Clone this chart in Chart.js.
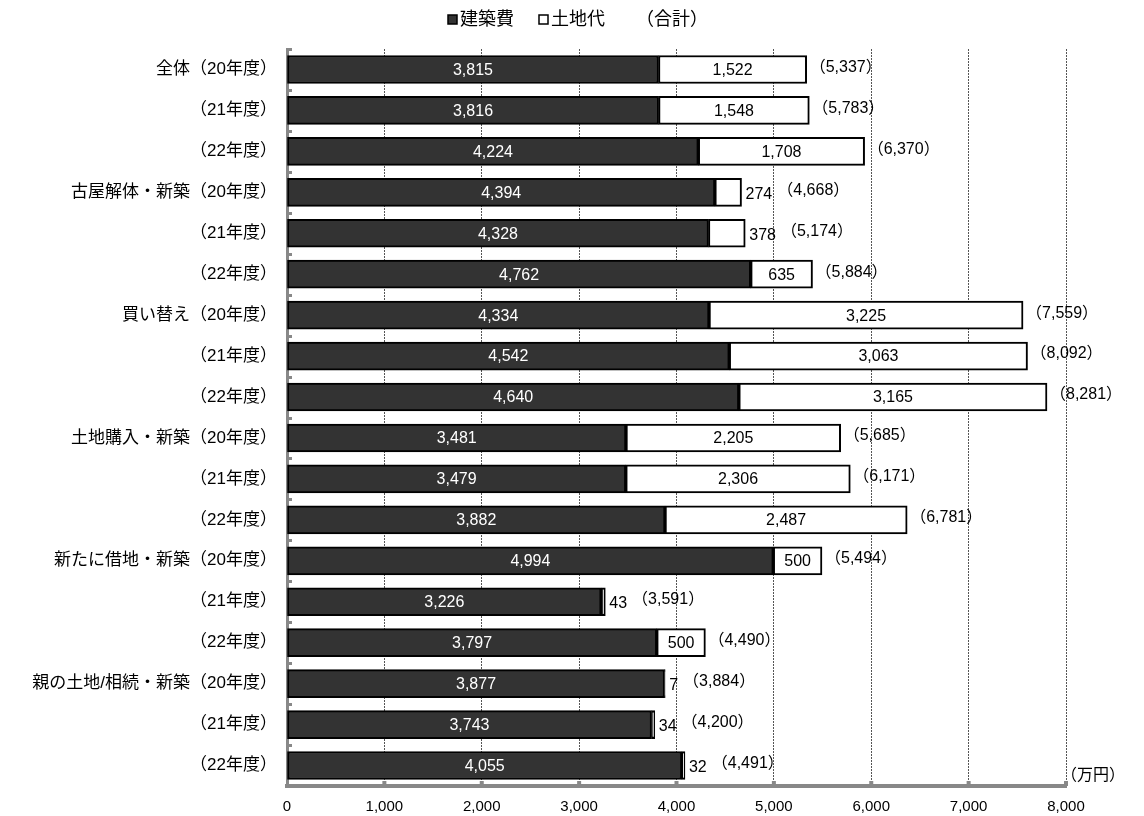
<!DOCTYPE html>
<html>
<head>
<meta charset="utf-8">
<script src="https://cdn.jsdelivr.net/npm/chart.js@4/dist/chart.umd.min.js"></script>
<style>
  html, body { margin: 0; background: #fff; }
  #wrap { width: 1144px; height: 816px; }
</style>
</head>
<body>
<div id="wrap"><canvas id="costChart" width="1144" height="816"></canvas></div>
<script>
// 建築費・土地代（万円）
const categories = [
  "全体（20年度）", "（21年度）", "（22年度）",
  "古屋解体・新築（20年度）", "（21年度）", "（22年度）",
  "買い替え（20年度）", "（21年度）", "（22年度）",
  "土地購入・新築（20年度）", "（21年度）", "（22年度）",
  "新たに借地・新築（20年度）", "（21年度）", "（22年度）",
  "親の土地/相続・新築（20年度）", "（21年度）", "（22年度）"
];
const buildCost = [3815, 3816, 4224, 4394, 4328, 4762, 4334, 4542, 4640, 3481, 3479, 3882, 4994, 3226, 3797, 3877, 3743, 4055];
const landCost = [1522, 1548, 1708, 274, 378, 635, 3225, 3063, 3165, 2205, 2306, 2487, 500, 43, 500, 7, 34, 32];
const totals = [5337, 5783, 6370, 4668, 5174, 5884, 7559, 8092, 8281, 5685, 6171, 6781, 5494, 3591, 4490, 3884, 4200, 4491];
const xTicks = [0, 1000, 2000, 3000, 4000, 5000, 6000, 7000, 8000];
const seriesNames = ["建築費", "土地代"];

const FONT = '"Liberation Sans", "Noto Sans CJK JP", sans-serif';
const fmt = v => v.toLocaleString("en-US");

const labelPlugin = {
  id: "labels",
  afterDraw(chart) {
    const ctx = chart.ctx;
    const area = chart.chartArea;
    const m0 = chart.getDatasetMeta(0);
    const m1 = chart.getDatasetMeta(1);

    ctx.save();
    // small ticks on the category axis
    ctx.fillStyle = "#888";
    const step = (area.bottom - area.top) / categories.length;
    for (let i = 0; i <= categories.length; i++) {
      const y = Math.round(area.top + step * i);
      ctx.fillRect(area.left, y - 1, 5, 3);
    }
    // small ticks on value axis
    chart.scales.x.ticks.forEach(t => {
      const x = chart.scales.x.getPixelForValue(t.value);
      if (t.value > 0) ctx.fillRect(x - 2, area.bottom - 5, 4, 5);
    });

    ctx.font = "16px " + FONT;
    ctx.textBaseline = "middle";
    for (let i = 0; i < categories.length; i++) {
      const b0 = m0.data[i];
      const b1 = m1.data[i];
      const y = b0.y;
      // build cost label
      ctx.fillStyle = "#fff";
      ctx.textAlign = "center";
      ctx.fillText(fmt(buildCost[i]), (b0.x + b0.base) / 2, y + 1);
      // land cost label
      ctx.fillStyle = "#000";
      const w = b1.x - b1.base;
      let endX = b1.x;
      const txt = fmt(landCost[i]);
      if (w >= 40) {
        ctx.textAlign = "center";
        ctx.fillText(txt, (b1.x + b1.base) / 2, y + 1);
      } else {
        ctx.textAlign = "left";
        ctx.fillText(txt, b1.x + 4, y + 2);
        endX = b1.x + 4 + ctx.measureText(txt).width + 2;
      }
      ctx.textAlign = "left";
      ctx.fillText("（" + fmt(totals[i]) + "）", endX + 3, y - 2);
    }

    // unit
    ctx.font = "16px " + FONT;
    ctx.textAlign = "left";
    ctx.fillText("（万円）", area.right - 5, area.bottom - 10);

    // legend
    ctx.font = "18px " + FONT;
    ctx.lineWidth = 1.5;
    ctx.strokeStyle = "#000";
    ctx.fillStyle = "#333";
    ctx.fillRect(448, 15, 9, 9);
    ctx.strokeRect(448, 15, 9, 9);
    ctx.fillStyle = "#fff";
    ctx.fillRect(539, 15, 9, 9);
    ctx.strokeRect(539, 15, 9, 9);
    ctx.fillStyle = "#000";
    ctx.textBaseline = "middle";
    ctx.fillText(seriesNames[0], 460, 20);
    ctx.fillText(seriesNames[1], 551, 20);
    ctx.fillText("（合計）", 636, 20);
    ctx.restore();
  }
};

new Chart(document.getElementById("costChart"), {
  type: "bar",
  data: {
    labels: categories,
    datasets: [
      {
        label: seriesNames[0],
        data: buildCost,
        backgroundColor: "#333333",
        borderColor: "#000",
        borderWidth: 2,
        borderSkipped: false,
        barThickness: 28
      },
      {
        label: seriesNames[1],
        data: landCost,
        backgroundColor: "#ffffff",
        borderColor: "#000",
        borderWidth: 2,
        borderSkipped: false,
        barThickness: 28
      }
    ]
  },
  options: {
    indexAxis: "y",
    responsive: false,
    animation: false,
    layout: { padding: { top: 49, right: 78, left: 0, bottom: 0 } },
    plugins: {
      legend: { display: false },
      tooltip: { enabled: false }
    },
    scales: {
      x: {
        stacked: true,
        min: 0,
        max: 8000,
        afterBuildTicks: scale => { scale.ticks = xTicks.map(v => ({ value: v })); },
        afterFit: scale => { scale.height = 30; },
        ticks: {
          color: "#000",
          font: { size: 15, family: FONT },
          padding: 12,
          maxRotation: 0,
          callback: v => fmt(v)
        },
        grid: {
          drawTicks: false,
          color: c => (c.tick && c.tick.value === 0) ? "rgba(0,0,0,0)" : "#555",
          lineWidth: 1
        },
        border: { color: "#888", width: 4, dash: [2, 1] }
      },
      y: {
        stacked: true,
        afterFit: scale => { scale.width = 287; },
        ticks: {
          color: "#000",
          font: { size: 17, family: FONT },
          padding: 10
        },
        grid: { display: false, drawTicks: false },
        border: { color: "#888", width: 3 }
      }
    }
  },
  plugins: [labelPlugin]
});
</script>
</body>
</html>
